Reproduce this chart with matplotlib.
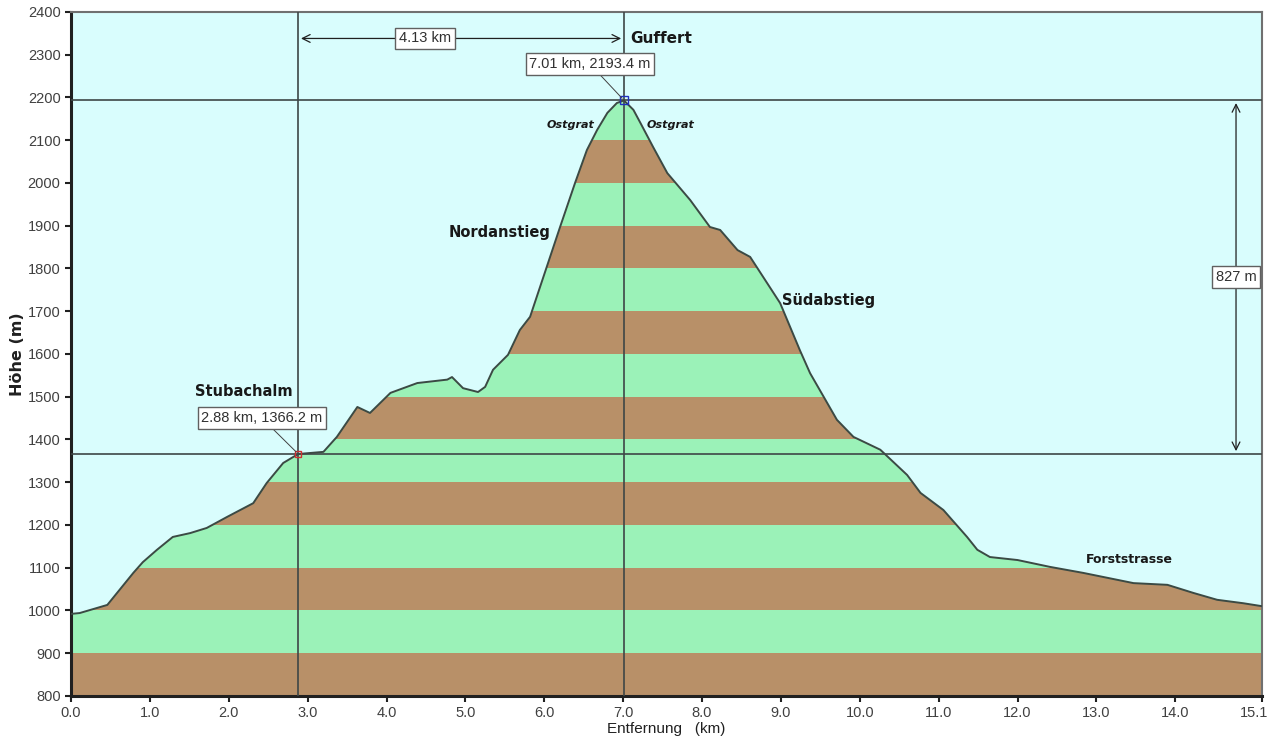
import numpy as np
import matplotlib
matplotlib.use("Agg")
import matplotlib.pyplot as plt
import matplotlib.transforms as mtransforms
from matplotlib.patches import Polygon

DIST_KM = [0.00, 0.11, 0.46, 0.79, 0.91, 1.09, 1.29, 1.51, 1.72, 1.98, 2.31, 2.48,
           2.69, 2.88, 3.20, 3.37, 3.63, 3.79, 4.05, 4.39, 4.77, 4.83, 4.97, 5.16,
           5.25, 5.35, 5.54, 5.69, 5.82, 6.03, 6.20, 6.39, 6.54, 6.67, 6.80, 6.92,
           7.01, 7.13, 7.22, 7.38, 7.56, 7.85, 8.10, 8.23, 8.45, 8.61, 8.99, 9.24,
           9.37, 9.71, 9.92, 10.26, 10.60, 10.77, 11.06, 11.36, 11.49, 11.65, 12.00,
           12.41, 12.83, 13.47, 13.90, 14.23, 14.53, 14.86, 15.10]
HEIGHT_M = [992, 994, 1013, 1088, 1113, 1142, 1172, 1181, 1193, 1219, 1251, 1298,
            1345, 1366, 1371, 1406, 1476, 1462, 1509, 1532, 1540, 1546, 1520, 1511,
            1523, 1563, 1598, 1656, 1687, 1803, 1897, 2000, 2077, 2124, 2164, 2187,
            2193, 2171, 2140, 2084, 2023, 1960, 1897, 1890, 1843, 1827, 1719, 1609,
            1555, 1446, 1406, 1376, 1317, 1275, 1235, 1172, 1142, 1125, 1118,
            1102, 1088, 1064, 1060, 1041, 1025, 1017, 1010]

START = (2.88, 1366.2)
GIPFEL = (7.01, 2193.4)
X_TICKS = [0.0, 1.0, 2.0, 3.0, 4.0, 5.0, 6.0, 7.0, 8.0, 9.0, 10.0, 11.0, 12.0, 13.0, 14.0, 15.1]

BG = '#d9fdfd'
BROWN = '#b89068'
GREEN = '#9bf2b8'
LINE = '#3b4a44'
GUIDE = '#3e4646'

fig = plt.figure(figsize=(12.73, 7.47), dpi=100)
ax = fig.add_axes([0.0558, 0.0683, 0.9356, 0.9157])
ax.set_facecolor(BG)
ax.set_xlim(0, 15.1)
ax.set_ylim(800, 2400)

x = np.array(DIST_KM)
y = np.array(HEIGHT_M)

# Profil-Polygon als Clip für die Höhenbänder
verts = list(zip(x, y)) + [(x[-1], 800), (x[0], 800)]
poly = Polygon(verts, closed=True, facecolor='none', edgecolor='none')
ax.add_patch(poly)
for k, lo in enumerate(range(800, 2400, 100)):
    band = ax.axhspan(lo, lo + 100, color=BROWN if k % 2 == 0 else GREEN, lw=0, zorder=1)
    band.set_clip_path(poly)
ax.plot(x, y, color=LINE, lw=1.4, zorder=3)

# Hilfslinien
for px_, py_ in (START, GIPFEL):
    ax.axvline(px_, color=GUIDE, lw=1.2, zorder=4)
    ax.axhline(py_, color=GUIDE, lw=1.2, zorder=4)

ax.plot(*START, 's', ms=5, mfc='none', mec='#d03030', mew=1.0, zorder=6)
ax.plot(*GIPFEL, 's', ms=6, mfc='none', mec='#2030c0', mew=1.0, zorder=6)

box = dict(boxstyle='square,pad=0.25', fc='white', ec='#606060', lw=1)
tfont = dict(fontsize=10.5, color='#303030', family='Liberation Sans')

# Distanz-Pfeil
ax.annotate('', xy=(GIPFEL[0], 2338), xytext=(START[0], 2338),
            arrowprops=dict(arrowstyle='<->', color='#202020', lw=0.9, mutation_scale=14), zorder=5)
ax.text(4.49, 2338, f'{GIPFEL[0] - START[0]:.2f} km', ha='center', va='center', bbox=box, zorder=7, **tfont)

# Höhen-Pfeil
ax.annotate('', xy=(14.77, START[1]), xytext=(14.77, GIPFEL[1]),
            arrowprops=dict(arrowstyle='<->', color='#202020', lw=0.9, mutation_scale=14), zorder=5)
ax.text(14.77, 1780, f'{GIPFEL[1] - START[1]:.0f} m', ha='center', va='center', bbox=box, zorder=7, **tfont)

# Punkt-Beschriftungen
ax.annotate(f'{GIPFEL[0]:.2f} km, {GIPFEL[1]:.1f} m', xy=GIPFEL, xytext=(6.58, 2278),
            ha='center', va='center', bbox=box, zorder=7,
            arrowprops=dict(arrowstyle='-', color='#404040', lw=0.7, shrinkA=0, shrinkB=2), **tfont)
ax.annotate(f'{START[0]:.2f} km, {START[1]:.1f} m', xy=START, xytext=(2.42, 1450),
            ha='center', va='center', bbox=box, zorder=7,
            arrowprops=dict(arrowstyle='-', color='#404040', lw=0.7, shrinkA=0, shrinkB=2), **tfont)

lab = dict(color='#181818', fontweight='bold', zorder=7)
ax.text(7.09, 2338, 'Guffert', ha='left', va='center', fontsize=11, **lab)
ax.text(2.19, 1513, 'Stubachalm', ha='center', va='center', fontsize=10.5, **lab)
ax.text(5.43, 1883, 'Nordanstieg', ha='center', va='center', fontsize=10.5, **lab)
ax.text(9.6, 1724, 'Südabstieg', ha='center', va='center', fontsize=10.5, **lab)
ax.text(13.42, 1120, 'Forststrasse', ha='center', va='center', fontsize=9, **lab)
ax.text(6.33, 2136, 'Ostgrat', ha='center', va='center', fontsize=8, style='italic', **lab)
ax.text(7.60, 2136, 'Ostgrat', ha='center', va='center', fontsize=8, style='italic', **lab)

# Achsen
ax.set_yticks(range(800, 2401, 100))
ax.set_xticks(X_TICKS)
ax.set_xticklabels([f'{v:.1f}' for v in X_TICKS])
ax.tick_params(labelsize=10.5, labelcolor='#404040', length=4, width=1.5, color='#202020')
for lbl in ax.get_xticklabels() + ax.get_yticklabels():
    lbl.set_family('Liberation Sans')
# letztes Label etwas nach links, damit es nicht abgeschnitten wird
last = ax.get_xticklabels()[-1]
last.set_transform(last.get_transform() +
                   mtransforms.ScaledTranslation(-6 / 72, 0, fig.dpi_scale_trans))
ax.set_xlabel('Entfernung   (km)', fontsize=11, color='#202020', family='Liberation Sans', labelpad=1)
ax.set_ylabel('Höhe (m)', fontsize=11.5, fontweight='bold', color='#202020', labelpad=2)
ax.spines['left'].set_linewidth(2.2)
ax.spines['bottom'].set_linewidth(2.2)
ax.spines['left'].set_color('#202020')
ax.spines['bottom'].set_color('#202020')
for s in ('top', 'right'):
    ax.spines[s].set_color('#707070')
    ax.spines[s].set_linewidth(1.5)

fig.savefig('out.png', dpi=100, facecolor='white')
